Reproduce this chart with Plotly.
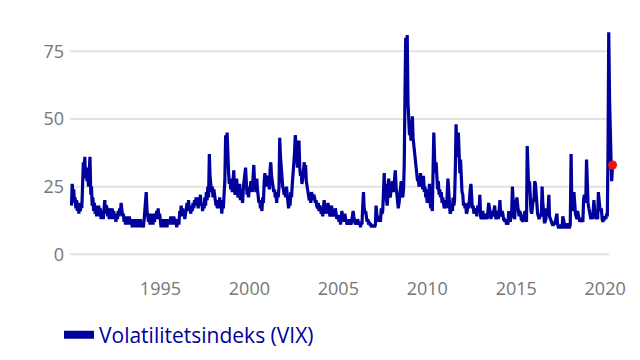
import pandas as pd
import plotly.graph_objects as go

# Semi-monthly VIX readings (1st and 15th of each month)
vix_1990 = [18, 26, 22, 24, 19, 21, 17, 20, 16, 19, 15, 18, 16, 19, 17, 24, 34, 29, 36, 28, 32, 27, 30, 25]
vix_1991 = [30, 36, 22, 25, 18, 21, 16, 19, 15, 18, 14, 17, 15, 18, 14, 17, 13, 16, 15, 13, 17, 20, 15, 18]
vix_1992 = [17, 14, 16, 13, 17, 15, 13, 17, 14, 16, 13, 15, 12, 15, 13, 16, 14, 17, 15, 19, 16, 14, 15, 12]
vix_1993 = [13, 11, 14, 12, 13, 11, 14, 12, 11, 13, 10, 12, 11, 13, 10, 12, 11, 13, 10, 12, 11, 13, 10, 12]
vix_1994 = [11, 10, 13, 16, 19, 23, 16, 14, 12, 15, 11, 13, 12, 15, 11, 13, 12, 15, 13, 16, 14, 17, 13, 15]
vix_1995 = [12, 10, 13, 11, 12, 10, 13, 11, 12, 10, 13, 11, 13, 11, 14, 12, 13, 11, 14, 12, 11, 13, 10, 12]
vix_1996 = [13, 11, 16, 14, 18, 15, 17, 14, 16, 13, 15, 17, 19, 16, 20, 16, 17, 15, 18, 16, 19, 17, 20, 18]
vix_1997 = [21, 18, 20, 17, 21, 19, 22, 18, 19, 16, 19, 17, 21, 18, 23, 20, 25, 21, 37, 29, 26, 23, 25, 21]
vix_1998 = [24, 21, 20, 18, 19, 17, 20, 18, 21, 17, 18, 15, 20, 17, 22, 27, 44, 36, 45, 34, 30, 26, 28, 24]
vix_1999 = [27, 23, 28, 31, 24, 22, 26, 28, 23, 21, 24, 26, 20, 24, 21, 19, 25, 27, 30, 32, 26, 22, 24, 21]
vix_2000 = [25, 23, 27, 24, 23, 28, 33, 27, 26, 23, 28, 24, 21, 19, 20, 17, 18, 16, 21, 19, 27, 30, 25, 29]
vix_2001 = [28, 25, 26, 24, 31, 34, 29, 27, 25, 23, 24, 21, 22, 19, 23, 21, 25, 43, 36, 32, 28, 25, 24, 22]
vix_2002 = [24, 21, 25, 21, 19, 17, 20, 18, 23, 21, 26, 29, 31, 37, 44, 39, 36, 32, 38, 42, 32, 29, 30, 26]
vix_2003 = [28, 31, 34, 29, 33, 27, 25, 23, 22, 20, 21, 19, 23, 21, 20, 22, 21, 19, 20, 18, 17, 19, 16, 18]
vix_2004 = [17, 15, 16, 14, 17, 20, 17, 15, 18, 15, 19, 16, 15, 14, 16, 18, 15, 14, 16, 14, 17, 15, 13, 14]
vix_2005 = [14, 12, 13, 11, 14, 16, 13, 14, 12, 15, 13, 12, 11, 12, 11, 13, 12, 11, 12, 14, 16, 14, 12, 11]
vix_2006 = [12, 11, 13, 12, 11, 12, 10, 12, 11, 17, 23, 17, 15, 16, 14, 12, 13, 11, 12, 11, 11, 10, 11, 10]
vix_2007 = [11, 10, 11, 18, 15, 13, 12, 14, 13, 12, 17, 15, 16, 25, 30, 23, 26, 20, 18, 22, 28, 23, 21, 23]
vix_2008 = [24, 27, 25, 23, 28, 31, 25, 22, 20, 17, 19, 22, 24, 27, 23, 21, 24, 33, 60, 80, 68, 81, 56, 47]
vix_2009 = [44, 48, 42, 46, 51, 43, 40, 36, 33, 31, 29, 27, 28, 25, 26, 30, 25, 27, 24, 29, 23, 25, 21, 22]
vix_2010 = [19, 24, 21, 26, 19, 17, 18, 16, 32, 45, 35, 30, 34, 26, 24, 27, 22, 24, 21, 23, 19, 21, 18, 17]
vix_2011 = [18, 20, 17, 21, 28, 24, 17, 15, 16, 18, 16, 21, 18, 20, 32, 48, 39, 36, 45, 32, 30, 35, 26, 23]
vix_2012 = [22, 18, 19, 17, 18, 15, 16, 19, 17, 22, 24, 26, 19, 17, 18, 15, 17, 15, 16, 14, 18, 16, 17, 22]
vix_2013 = [14, 13, 14, 16, 13, 14, 15, 13, 14, 13, 16, 19, 17, 14, 13, 15, 16, 14, 17, 18, 14, 13, 14, 16]
vix_2014 = [13, 18, 20, 15, 14, 16, 15, 13, 13, 12, 13, 11, 12, 11, 16, 14, 12, 14, 16, 25, 17, 14, 13, 20]
vix_2015 = [19, 21, 18, 15, 14, 16, 15, 13, 13, 12, 14, 16, 16, 13, 12, 40, 28, 24, 27, 19, 16, 15, 18, 20]
vix_2016 = [20, 27, 26, 21, 17, 15, 14, 13, 14, 15, 14, 25, 19, 13, 12, 12, 13, 17, 14, 16, 22, 14, 13, 12]
vix_2017 = [12, 11, 11, 12, 11, 12, 13, 15, 11, 10, 10, 11, 10, 10, 10, 14, 12, 11, 10, 10, 10, 11, 11, 10]
vix_2018 = [10, 11, 37, 20, 18, 16, 23, 18, 15, 14, 13, 16, 13, 13, 12, 13, 13, 12, 12, 20, 22, 19, 21, 35]
vix_2019 = [25, 19, 17, 15, 14, 13, 14, 13, 16, 20, 16, 15, 13, 14, 13, 23, 19, 17, 16, 17, 13, 12, 13, 13]
vix_2020 = [14, 13, 15, 14, 40, 82, 57, 40, 35, 27, 33]

vix_values = (vix_1990 + vix_1991 + vix_1992 + vix_1993 + vix_1994 + vix_1995 + vix_1996
              + vix_1997 + vix_1998 + vix_1999 + vix_2000 + vix_2001 + vix_2002 + vix_2003
              + vix_2004 + vix_2005 + vix_2006 + vix_2007 + vix_2008 + vix_2009 + vix_2010
              + vix_2011 + vix_2012 + vix_2013 + vix_2014 + vix_2015 + vix_2016 + vix_2017
              + vix_2018 + vix_2019 + vix_2020)
dates = pd.date_range("1990-01-01", periods=len(vix_values), freq="SMS")

series_name = "Volatilitetsindeks (VIX)"
y_ticks = [0, 25, 50, 75]
x_tick_years = [1995, 2000, 2005, 2010, 2015, 2020]
x_tick_vals = [pd.Timestamp(f"{y}-01-01") for y in x_tick_years]
x_tick_text = [str(y) for y in x_tick_years]

BLUE = "#00009C"
GREY = "#767676"
FONT = "Open Sans"

# the page body keeps its default 8px margin, so the figure is sized to fit inside it
W, H = 632, 352

fig = go.Figure()
fig.add_trace(go.Scatter(
    x=dates, y=vix_values, mode="lines", name=series_name,
    line=dict(color=BLUE, width=3.2), showlegend=False, hoverinfo="x+y",
))
# legend entry
fig.add_trace(go.Scatter(
    x=[None], y=[None], mode="lines", name=series_name,
    line=dict(color=BLUE, width=8), showlegend=True,
))
# latest value marker
fig.add_trace(go.Scatter(
    x=[dates[-1]], y=[vix_values[-1]], mode="markers",
    marker=dict(color="#EE1111", size=9), showlegend=False, cliponaxis=False,
))

grid_start = pd.Timestamp("1989-12-01")
grid_end = pd.Timestamp("2020-03-27")
for yv in y_ticks:
    fig.add_shape(type="line", xref="x", yref="y", x0=grid_start, x1=grid_end,
                  y0=yv, y1=yv, line=dict(color="#E3E3E3", width=2), layer="below")

fig.update_layout(
    width=W, height=H,
    margin=dict(l=62, r=26, t=8, b=84, autoexpand=False),
    paper_bgcolor="white", plot_bgcolor="white",
    font=dict(family=FONT, size=18, color=GREY),
    showlegend=True,
    legend=dict(orientation="h", x=51 / W, xref="container", xanchor="left",
                y=0.129, yref="container", yanchor="top",
                font=dict(color=BLUE, size=21, family=FONT), bgcolor="rgba(0,0,0,0)"),
    xaxis=dict(range=[grid_start, pd.Timestamp("2020-07-01")], showgrid=False,
               zeroline=False, showline=False, tickmode="array",
               tickvals=x_tick_vals, ticktext=x_tick_text, ticks="",
               tickfont=dict(size=18, color=GREY)),
    yaxis=dict(range=[-8, 88], showgrid=False, zeroline=False, showline=False,
               tickmode="array", tickvals=y_ticks, ticks="",
               tickfont=dict(size=18, color=GREY), ticklabelstandoff=5),
)

fig.write_html("out.html")
